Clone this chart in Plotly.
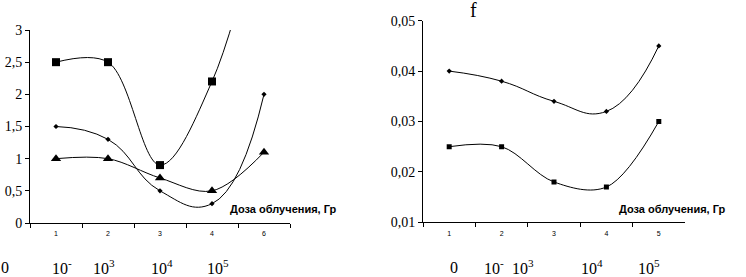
import plotly.graph_objects as go

# ---- data ----
left_cats = ["1", "2", "3", "4", "6"]
left_squares = [2.5, 2.5, 0.9, 2.2, 5.0]
left_dots = [1.5, 1.3, 0.5, 0.3, 2.0]
left_triangles = [1.0, 1.0, 0.7, 0.5, 1.1]
left_yticks = [0, 0.5, 1, 1.5, 2, 2.5, 3]
left_yticklabels = ["0", "0,5", "1", "1,5", "2", "2,5", "3"]

right_cats = ["1", "2", "3", "4", "5"]
right_top = [0.040, 0.038, 0.034, 0.032, 0.045]
right_bottom = [0.025, 0.025, 0.018, 0.017, 0.030]
right_yticks = [0.01, 0.02, 0.03, 0.04, 0.05]
right_yticklabels = ["0,01", "0,02", "0,03", "0,04", "0,05"]

dose_labels_left = ["0", "10<sup>-</sup>", "10<sup>3</sup>", "10<sup>4</sup>", "10<sup>5</sup>"]
dose_labels_right = ["0", "10<sup>-</sup>", "10<sup>3</sup>", "10<sup>4</sup>", "10<sup>5</sup>"]
axis_title = "Доза облучения, Гр"
panel_title = "f"

W, H = 746, 277
SERIF = "Liberation Serif, Times New Roman, serif"
SANS = "Liberation Sans, Arial, sans-serif"

fig = go.Figure()

line = dict(color="black", width=1, shape="spline", smoothing=1.0)
line_soft = dict(color="black", width=1, shape="spline", smoothing=1.3)

fig.add_trace(go.Scatter(x=left_cats, y=left_squares, mode="lines+markers", line=line,
                         marker=dict(symbol="square", size=8, color="black"),
                         xaxis="x", yaxis="y", cliponaxis=True))
fig.add_trace(go.Scatter(x=left_cats, y=left_dots, mode="lines+markers", line=line_soft,
                         marker=dict(symbol="diamond", size=4, color="black"),
                         xaxis="x", yaxis="y"))
fig.add_trace(go.Scatter(x=left_cats, y=left_triangles, mode="lines+markers", line=line,
                         marker=dict(symbol="triangle-up", size=9, color="black"),
                         xaxis="x", yaxis="y"))

fig.add_trace(go.Scatter(x=right_cats, y=right_top, mode="lines+markers", line=line_soft,
                         marker=dict(symbol="diamond", size=4, color="black"),
                         xaxis="x2", yaxis="y2"))
fig.add_trace(go.Scatter(x=right_cats, y=right_bottom, mode="lines+markers", line=line,
                         marker=dict(symbol="square", size=5, color="black"),
                         xaxis="x2", yaxis="y2"))

xcommon = dict(type="category", tickson="boundaries", ticks="outside", ticklen=4,
               tickcolor="black", showline=True, linecolor="black", linewidth=1,
               showgrid=False, zeroline=False, automargin=False, ticklabelstandoff=4,
               tickfont=dict(family=SANS, size=7, color="black"), fixedrange=True)
ycommon = dict(ticks="outside", ticklen=4, tickcolor="black", showline=True,
               linecolor="black", linewidth=1, showgrid=False, zeroline=False,
               automargin=False,
               tickfont=dict(family=SERIF, size=14, color="black"), fixedrange=True)

fig.update_layout(
    template="none",
    width=W, height=H, margin=dict(l=0, r=0, t=0, b=0, pad=0),
    paper_bgcolor="white", plot_bgcolor="white", showlegend=False,
    xaxis=dict(xcommon, domain=[30 / W, 290 / W], anchor="y", range=[-0.5, 4.5]),
    yaxis=dict(ycommon, domain=[1 - 223 / H, 1 - 30 / H], anchor="x", range=[0, 3],
               tickvals=left_yticks, ticktext=left_yticklabels),
    xaxis2=dict(xcommon, domain=[423 / W, 685 / W], anchor="y2", range=[-0.5, 4.5]),
    yaxis2=dict(ycommon, domain=[1 - 222.3 / H, 1 - 20.7 / H], anchor="x2",
                range=[0.01, 0.05], tickvals=right_yticks, ticktext=right_yticklabels),
)

ann = []
ann.append(dict(text=axis_title, x=228 / W, y=1 - 209 / H, xref="paper", yref="paper",
                xanchor="left", yanchor="middle", showarrow=False,
                font=dict(family=SANS, size=11, color="black", weight="bold")))
ann.append(dict(text=axis_title, x=617 / W, y=1 - 209 / H, xref="paper", yref="paper",
                xanchor="left", yanchor="middle", showarrow=False,
                font=dict(family=SANS, size=11, color="black", weight="bold")))
ann.append(dict(text=panel_title, x=473 / W, y=1 - 10 / H, xref="paper", yref="paper",
                xanchor="center", yanchor="middle", showarrow=False,
                font=dict(family=SERIF, size=20, color="black")))

left_pos = [5, 62, 104, 162, 218]
right_pos = [454, 494, 523, 592, 649]
for t, px in zip(dose_labels_left, left_pos):
    ann.append(dict(text=t, x=px / W, y=1 - 267 / H, xref="paper", yref="paper",
                    xanchor="center", yanchor="middle", showarrow=False,
                    font=dict(family=SERIF, size=16, color="black")))
for t, px in zip(dose_labels_right, right_pos):
    ann.append(dict(text=t, x=px / W, y=1 - 267 / H, xref="paper", yref="paper",
                    xanchor="center", yanchor="middle", showarrow=False,
                    font=dict(family=SERIF, size=16, color="black")))
fig.update_layout(annotations=ann)

fig.write_html("out.html", config={"displayModeBar": False},
               post_script="document.body.style.margin='0';document.body.style.overflow='hidden';")
